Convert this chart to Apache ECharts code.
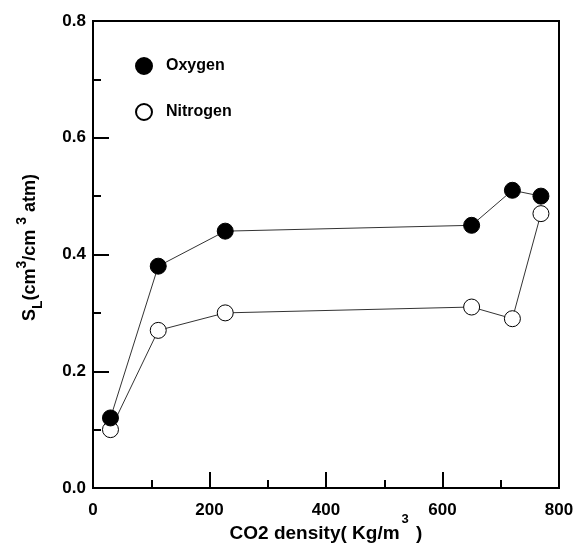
<!DOCTYPE html>
<html>
<head>
<meta charset="utf-8">
<script src="https://cdn.jsdelivr.net/npm/echarts@6/dist/echarts.min.js"></script>
<style>html,body{margin:0;padding:0;background:#fff;}#c{width:576px;height:544px;}</style>
</head>
<body>
<div id="c"></div>
<script>
const density = [30, 112, 227, 650, 720, 769];
const oxygen = [0.12, 0.38, 0.44, 0.45, 0.51, 0.50];
const nitrogen = [0.10, 0.27, 0.30, 0.31, 0.29, 0.47];
const seriesNames = ['Oxygen', 'Nitrogen'];

const chart = echarts.init(document.getElementById('c'), null, {renderer: 'canvas'});
const font = 'Arial, "Liberation Sans", sans-serif';
const pair = (xs, ys) => xs.map((x, i) => [x, ys[i]]);

chart.setOption({
  animation: false,
  backgroundColor: '#fff',
  grid: {left: 93, right: 17, top: 21, bottom: 56, show: true, borderColor: '#000', borderWidth: 2,
         containLabel: false, outerBoundsMode: 'none'},
  legend: {
    orient: 'vertical', left: 130, top: 52, itemGap: 28, itemWidth: 16, itemHeight: 16,
    icon: 'circle',
    data: seriesNames,
    textStyle: {fontFamily: font, fontWeight: 'bold', fontSize: 16, color: '#000', padding: [0, 0, 0, 9]}
  },
  xAxis: {
    type: 'value', min: 0, max: 800, interval: 200,
    axisLine: {show: true, lineStyle: {color: '#000', width: 2}},
    axisTick: {show: true, inside: true, length: 16, lineStyle: {color: '#000', width: 2}},
    minorTick: {show: true, splitNumber: 2, length: 8, lineStyle: {color: '#000', width: 2}},
    splitLine: {show: false},
    axisLabel: {fontFamily: font, fontWeight: 'bold', fontSize: 17, color: '#000', margin: 14},
    name: '{b|CO2 density( Kg/m}{s|3}{b| )}',
    nameLocation: 'middle', nameGap: 25, nameMoveOverlap: false,
    nameTextStyle: {
      rich: {
        b: {fontFamily: font, fontWeight: 'bold', fontSize: 19, color: '#000', lineHeight: 30, verticalAlign: 'bottom'},
        s: {fontFamily: font, fontWeight: 'bold', fontSize: 13, color: '#000', lineHeight: 16, verticalAlign: 'top', padding: [0, 2, 0, 2]}
      }
    }
  },
  yAxis: {
    type: 'value', min: 0, max: 0.8, interval: 0.2,
    axisLine: {show: true, lineStyle: {color: '#000', width: 2}},
    axisTick: {show: true, inside: true, length: 16, lineStyle: {color: '#000', width: 2}},
    minorTick: {show: true, splitNumber: 2, length: 8, lineStyle: {color: '#000', width: 2}},
    splitLine: {show: false},
    axisLabel: {fontFamily: font, fontWeight: 'bold', fontSize: 17, color: '#000', margin: 7, formatter: v => v.toFixed(1)},
    name: '{b|S}{sub|L}{b|(cm}{s|3}{b|/cm }{s|3}{b| atm)}',
    nameLocation: 'middle', nameGap: 48, nameRotate: 90, nameMoveOverlap: false,
    nameTextStyle: {
      padding: [0, 0, 0, 14],
      rich: {
        b: {fontFamily: font, fontWeight: 'bold', fontSize: 18, color: '#000', lineHeight: 30, verticalAlign: 'middle'},
        s: {fontFamily: font, fontWeight: 'bold', fontSize: 14, color: '#000', lineHeight: 14, verticalAlign: 'top'},
        sub: {fontFamily: font, fontWeight: 'bold', fontSize: 14, color: '#000', lineHeight: 14, verticalAlign: 'bottom'}
      }
    }
  },
  series: [
    {
      name: seriesNames[0], type: 'line', data: pair(density, oxygen),
      symbol: 'circle', symbolSize: 16,
      itemStyle: {color: '#000', borderColor: '#000', borderWidth: 1},
      lineStyle: {color: '#333', width: 1}, z: 3
    },
    {
      name: seriesNames[1], type: 'line', data: pair(density, nitrogen),
      symbol: 'circle', symbolSize: 16,
      itemStyle: {color: '#fff', borderColor: '#000', borderWidth: 1},
      lineStyle: {color: '#333', width: 1}, z: 2
    }
  ]
});
</script>
</body>
</html>
